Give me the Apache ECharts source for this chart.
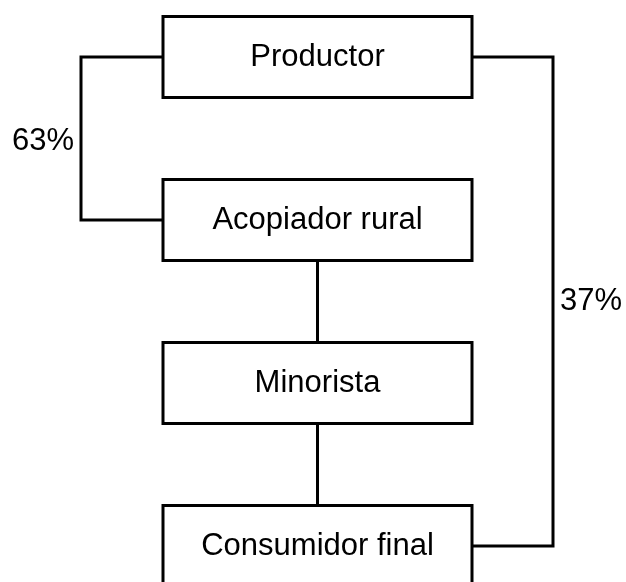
<!DOCTYPE html>
<html>
<head>
<meta charset="utf-8">
<script src="https://cdn.jsdelivr.net/npm/echarts@6/dist/echarts.min.js"></script>
<style>
  html, body { margin: 0; padding: 0; background: #fff; }
  #chart { width: 626px; height: 582px; }
</style>
</head>
<body>
<div id="chart"></div>
<script>
// nodes of the channel, one per level (top to bottom)
const nodes = ['Productor', 'Acopiador rural', 'Minorista', 'Consumidor final'];
const nodeLevel = [0, 1, 2, 3];
// direct chain between consecutive boxes
const chainLinks = [[1, 2], [2, 3]];
// side routes: [from, to, share]
const sideLinks = [[0, 1, '63%'], [0, 3, '37%']];

// layout (in axis units: x = pixels, y = level)
const boxLeft = 163, boxRight = 472, boxMid = 317.5;
const leftRail = 81, rightRail = 553;
const boxHalf = 40.5;

const chart = echarts.init(document.getElementById('chart'));

const lineData = [];
chainLinks.forEach(([a, b]) => {
    lineData.push({ coords: [[boxMid, nodeLevel[a]], [boxMid, nodeLevel[b]]] });
});
const [leftLink, rightLink] = sideLinks;
lineData.push({ coords: [[boxLeft, nodeLevel[leftLink[0]]], [leftRail, nodeLevel[leftLink[0]]],
    [leftRail, nodeLevel[leftLink[1]]], [boxLeft, nodeLevel[leftLink[1]]]] });
lineData.push({ coords: [[boxRight, nodeLevel[rightLink[0]]], [rightRail, nodeLevel[rightLink[0]]],
    [rightRail, nodeLevel[rightLink[1]]], [boxRight, nodeLevel[rightLink[1]]]] });

const font = 'Liberation Sans, Arial, sans-serif';

const option = {
    animation: false,
    grid: { left: 0, right: 0, top: 0, bottom: 0 },
    xAxis: { type: 'value', min: 0, max: 626, show: false },
    yAxis: { type: 'value', min: -57 / 163, max: 525 / 163, inverse: true, show: false },
    series: [
        {
            type: 'lines',
            coordinateSystem: 'cartesian2d',
            polyline: true,
            silent: true,
            z: 1,
            lineStyle: { color: '#000', width: 3, opacity: 1 },
            data: lineData
        },
        {
            type: 'custom',
            z: 2,
            silent: true,
            data: nodes.map((n, i) => [nodeLevel[i], n]),
            renderItem: function (params, api) {
                const lvl = api.value(0);
                const p1 = api.coord([boxLeft, lvl]);
                const p2 = api.coord([boxRight, lvl]);
                return {
                    type: 'group',
                    children: [
                        {
                            type: 'rect',
                            shape: { x: p1[0], y: p1[1] - boxHalf, width: p2[0] - p1[0], height: boxHalf * 2 },
                            style: { fill: '#fff', stroke: '#000', lineWidth: 3 }
                        },
                        {
                            type: 'text',
                            style: {
                                text: nodes[params.dataIndex],
                                x: (p1[0] + p2[0]) / 2,
                                y: p1[1],
                                align: 'center',
                                verticalAlign: 'middle',
                                fill: '#000',
                                fontSize: 31,
                                fontFamily: font
                            }
                        }
                    ]
                };
            }
        },
        {
            // share labels beside the side rails
            type: 'custom',
            z: 3,
            silent: true,
            data: [
                [leftRail, (nodeLevel[leftLink[0]] + nodeLevel[leftLink[1]]) / 2 + 0.02, -1],
                [rightRail, (nodeLevel[rightLink[0]] + nodeLevel[rightLink[1]]) / 2, 1]
            ],
            renderItem: function (params, api) {
                const p = api.coord([api.value(0), api.value(1)]);
                const side = api.value(2);
                return {
                    type: 'text',
                    style: {
                        text: sideLinks[params.dataIndex][2],
                        x: p[0] + side * 7,
                        y: p[1],
                        align: side < 0 ? 'right' : 'left',
                        verticalAlign: 'middle',
                        fill: '#000',
                        fontSize: 31,
                        fontFamily: font
                    }
                };
            }
        }
    ]
};
chart.setOption(option);
</script>
</body>
</html>
